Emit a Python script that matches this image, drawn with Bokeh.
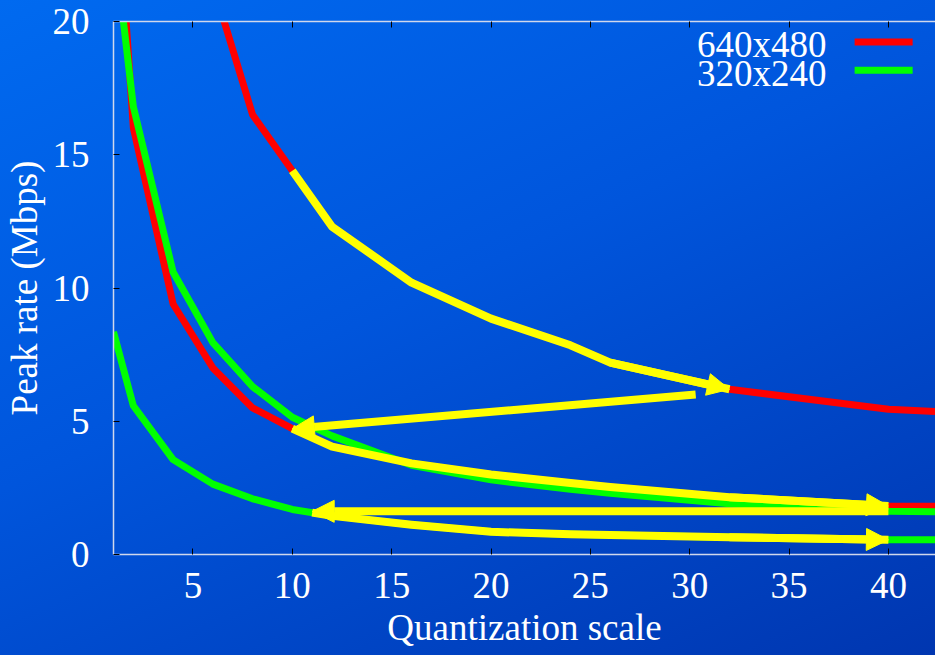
import numpy as np
from bokeh.plotting import figure
from bokeh.models import (Range1d, LinearAxis, Arrow, NormalHead, Label,
                          BoxAnnotation, FixedTicker, CustomJSTickFormatter)
from bokeh.embed import file_html
from bokeh.resources import INLINE

nan = float("nan")

# ---------------- data ----------------
qscale = [1, 2, 4, 6, 8, 10, 12, 16, 20, 24, 26, 32, 40, 44]
rate_640_hi = [nan, nan, nan, 21.4, 16.5, 14.4, 12.3, 10.2, 8.85, 7.85, 7.2, 6.2, 5.45, 5.3]
rate_640_lo = [27.0, 16.0, 9.4, 7.0, 5.5, 4.72, 4.05, 3.42, 3.0, 2.68, 2.53, 2.15, 1.82, 1.8]
rate_320_hi = [23.2, 16.8, 10.6, 7.95, 6.3, 5.15, 4.45, 3.35, 2.8, 2.45, 2.3, 1.9, 1.62, 1.6]
rate_320_lo = [8.35, 5.58, 3.56, 2.64, 2.09, 1.69, 1.45, 1.12, 0.85, 0.76, 0.73, 0.65, 0.55, 0.55]

# highlighted (yellow) stretches of the curves
highlight_from = [10, 10, 11]
highlight_to = [32, 40, 40]

# straight yellow jump arrows
jump_x0 = [30.3, 40.0]
jump_y0 = [6.0, 1.62]
jump_x1 = [10.0, 11.0]
jump_y1 = [4.72, 1.62]

x_ticks = [5, 10, 15, 20, 25, 30, 35, 40]
y_ticks = [0, 5, 10, 15, 20]
legend_labels = ["640x480", "320x240"]

RED = "#ff0000"
GREEN = "#00ff00"
YELLOW = "#ffff00"
WHITE = "#ffffff"
AXIS = "#d0d8ec"
FONT = "Liberation Serif"
FS = "37px"

p = figure(width=935, height=655, output_backend="svg", toolbar_location=None,
           x_range=Range1d(1, 42.37), y_range=Range1d(0, 20),
           min_border_left=112, min_border_top=21, min_border_right=0,
           min_border_bottom=101)
p.styles = {"background": "linear-gradient(155deg, #006af0 0%, #0055dc 45%, #0036b0 100%)"}
p.background_fill_color = None
p.border_fill_color = None
p.outline_line_color = None
p.xgrid.grid_line_color = None
p.ygrid.grid_line_color = None

for ax in (p.xaxis[0], p.yaxis[0]):
    ax.axis_line_color = AXIS
    ax.axis_line_width = 1.5
    ax.major_tick_line_color = "black"
    ax.major_tick_in = 6
    ax.major_tick_out = 0
    ax.minor_tick_line_color = None
    ax.major_label_text_font = FONT
    ax.major_label_text_font_size = FS
    ax.major_label_text_color = WHITE
    ax.axis_label_text_font = FONT
    ax.axis_label_text_font_size = FS
    ax.axis_label_text_font_style = "normal"
    ax.axis_label_text_color = WHITE

p.xaxis[0].ticker = FixedTicker(ticks=x_ticks)
p.yaxis[0].ticker = FixedTicker(ticks=y_ticks)
p.xaxis[0].axis_label = "Quantization scale"
p.yaxis[0].axis_label = "Peak rate (Mbps)"
p.xaxis[0].major_label_standoff = 18
p.xaxis[0].axis_label_standoff = 6
p.yaxis[0].major_label_standoff = 24
p.yaxis[0].axis_label_standoff = 5

top = LinearAxis(ticker=FixedTicker(ticks=x_ticks),
                 formatter=CustomJSTickFormatter(code="return ''"),
                 major_label_text_font_size="1px", major_label_standoff=0,
                 axis_line_color=AXIS, axis_line_width=1.5,
                 major_tick_line_color="black", major_tick_in=6, major_tick_out=0,
                 minor_tick_line_color=None)
p.add_layout(top, "above")

# ---------------- curves ----------------
LW = 7
p.line(qscale, rate_640_hi, line_color=RED, line_width=LW, line_join="round")
p.line(qscale, rate_640_lo, line_color=RED, line_width=LW, line_join="round")
p.line(qscale, rate_320_hi, line_color=GREEN, line_width=LW, line_join="round")
p.line(qscale, rate_320_lo, line_color=GREEN, line_width=LW, line_join="round")

# ---------------- yellow highlights with arrow heads ----------------
q = np.array(qscale, dtype=float)
YW = 8
for series, a, b in zip([rate_640_hi, rate_640_lo, rate_320_lo], highlight_from, highlight_to):
    s = np.array(series, dtype=float)
    inner = (q > a) & (q < b)
    xs = np.concatenate([[a], q[inner], [b]])
    ys = np.concatenate([[np.interp(a, q, s)], s[inner], [np.interp(b, q, s)]])
    p.line(xs, ys, line_color=YELLOW, line_width=YW, line_join="round")
    p.add_layout(Arrow(end=NormalHead(size=22, fill_color=YELLOW, line_color=YELLOW, line_width=1),
                       x_start=xs[-2], y_start=ys[-2], x_end=xs[-1], y_end=ys[-1],
                       line_color=YELLOW, line_width=YW))

for x0, y0, x1, y1 in zip(jump_x0, jump_y0, jump_x1, jump_y1):
    p.add_layout(Arrow(end=NormalHead(size=22, fill_color=YELLOW, line_color=YELLOW, line_width=1),
                       x_start=x0, y_start=y0, x_end=x1, y_end=y1,
                       line_color=YELLOW, line_width=YW))

# ---------------- legend (text left, sample right) ----------------
leg_text_x = 36.89
leg_text_y = [19.14, 18.06]
leg_sample_y = [19.23, 18.17]
for lbl, ty, sy, col in zip(legend_labels, leg_text_y, leg_sample_y, [RED, GREEN]):
    p.add_layout(Label(x=leg_text_x, y=ty, text=lbl, text_align="right",
                       text_baseline="middle", text_font=FONT,
                       text_font_size=FS, text_color=WHITE))
    p.add_layout(BoxAnnotation(left=38.30, right=41.22, bottom=sy - 0.13, top=sy + 0.13,
                               fill_color=col, fill_alpha=1.0, line_color=None))

open("out.html", "w").write(file_html(p, INLINE))
